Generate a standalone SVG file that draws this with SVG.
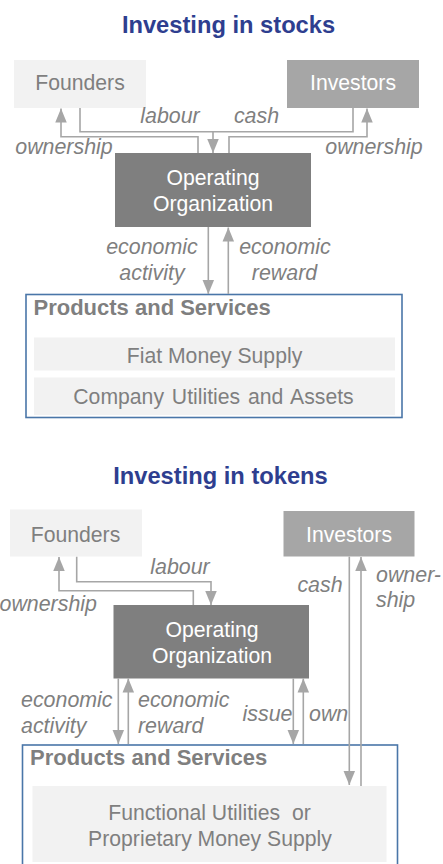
<svg xmlns="http://www.w3.org/2000/svg" width="443" height="864" viewBox="0 0 443 864">
<style>
.title{font-family:"Liberation Sans",Arial,sans-serif;font-weight:bold;font-size:23.7px;fill:#2e3e8f;text-anchor:middle}
.lt{fill:#f2f2f2}
.md{fill:#a6a6a6}
.dk{fill:#7f7f7f}
.t{font-family:"Liberation Sans",Arial,sans-serif;font-size:21.2px;fill:#7f7f7f;text-anchor:middle}
.pre{white-space:pre}
.w{fill:#ffffff}
.lbl{font-family:"Liberation Sans",Arial,sans-serif;font-size:21.4px;font-style:italic;fill:#7f7f7f}
.ps{font-family:"Liberation Sans",Arial,sans-serif;font-size:22px;font-weight:bold;fill:#7f7f7f}
.frame{fill:#ffffff;stroke:#4a76a8;stroke-width:1.6}
.c{fill:none;stroke:#a6a6a6;stroke-width:1.6}
.a{marker-end:url(#ah)}
</style>
<defs>
<marker id="ah" markerUnits="userSpaceOnUse" markerWidth="14" markerHeight="17" refX="17" refY="7" orient="auto" viewBox="0 0 17 14">
<path d="M0,0 L17,7 L0,14 z" fill="#a6a6a6"/>
</marker>
</defs>

<!-- Section 1 -->
<text class="title" x="228.5" y="33">Investing in stocks</text>

<g id="founders1">
<rect class="lt" x="14" y="60" width="132" height="48"/>
<text class="t" x="80" y="90">Founders</text>
</g>
<g id="investors1">
<rect class="md" x="287" y="60" width="132" height="48"/>
<text class="t w" x="353" y="90">Investors</text>
</g>
<g id="org1">
<rect class="dk" x="115" y="153" width="196" height="74"/>
<text class="t w" x="213" y="185">Operating</text>
<text class="t w" x="213" y="211">Organization</text>
</g>
<g id="products1">
<rect class="frame" x="26" y="294.5" width="376" height="123"/>
<text class="ps" x="33.5" y="315">Products and Services</text>
<rect class="lt" x="34" y="337.5" width="361" height="33"/>
<text class="t" x="214.5" y="362.5">Fiat Money Supply</text>
<rect class="lt" x="34" y="377.5" width="361" height="37.5"/>
<text class="t" x="213.5" y="404" word-spacing="2">Company Utilities and Assets</text>
</g>

<!-- Section 2 -->
<text class="title" x="220.5" y="483.5">Investing in tokens</text>

<g id="founders2">
<rect class="lt" x="10" y="509.5" width="132" height="47"/>
<text class="t" x="75.5" y="541.5">Founders</text>
</g>
<g id="investors2">
<rect class="md" x="283.5" y="511" width="131" height="45.5"/>
<text class="t w" x="349" y="541.5">Investors</text>
</g>
<g id="org2">
<rect class="dk" x="113.5" y="605" width="195.5" height="73.5"/>
<text class="t w" x="212" y="636.5">Operating</text>
<text class="t w" x="212" y="663">Organization</text>
</g>
<g id="products2">
<rect class="frame" x="22.5" y="745" width="375" height="130"/>
<text class="ps" x="30" y="765">Products and Services</text>
</g>

<g id="connectors">
<!-- section 1 -->
<polyline class="c" points="80,108 80,131.7 213,131.7"/>
<polyline class="c a" points="353,108 353,131.7 213,131.7 213,153"/>
<polyline class="c a" points="198,153 198,136.7 61,136.7 61,108.5"/>
<polyline class="c a" points="229,153 229,136.7 367,136.7 367,108.5"/>
<line class="c a" x1="208.3" y1="227" x2="208.3" y2="294"/>
<line class="c a" x1="228.3" y1="294" x2="228.3" y2="227.5"/>
<!-- section 2 -->
<polyline class="c a" points="76.7,556.7 76.7,581.7 211,581.7 211,605"/>
<polyline class="c a" points="193.3,605 193.3,590.7 59,590.7 59,557"/>
<line class="c a" x1="349.3" y1="556.7" x2="349.3" y2="785"/>
<line class="c a" x1="361" y1="786" x2="361" y2="557"/>
<line class="c a" x1="118.3" y1="678.5" x2="118.3" y2="744"/>
<line class="c a" x1="128.3" y1="744" x2="128.3" y2="678.5"/>
<line class="c a" x1="293.3" y1="678.5" x2="293.3" y2="744"/>
<line class="c a" x1="303.3" y1="744" x2="303.3" y2="678.5"/>
</g>

<g id="labels">
<text class="lbl" x="170" y="123" text-anchor="middle">labour</text>
<text class="lbl" x="256.5" y="123" text-anchor="middle">cash</text>
<text class="lbl" x="64" y="153.5" text-anchor="middle">ownership</text>
<text class="lbl" x="374" y="153.5" text-anchor="middle">ownership</text>
<text class="lbl" x="152" y="253.5" text-anchor="middle">economic</text>
<text class="lbl" x="152" y="279.5" text-anchor="middle">activity</text>
<text class="lbl" x="285" y="253.5" text-anchor="middle">economic</text>
<text class="lbl" x="284.5" y="279.5" text-anchor="middle">reward</text>

<text class="lbl" x="180" y="574" text-anchor="middle">labour</text>
<text class="lbl" x="97" y="610.5" text-anchor="end">ownership</text>
<text class="lbl" x="320" y="592" text-anchor="middle">cash</text>
<text class="lbl" x="376" y="582">owner-</text>
<text class="lbl" x="376" y="607">ship</text>
<text class="lbl" x="21" y="707">economic</text>
<text class="lbl" x="21" y="732.5">activity</text>
<text class="lbl" x="138" y="707">economic</text>
<text class="lbl" x="138" y="732.5">reward</text>
<text class="lbl" x="292.5" y="720.5" text-anchor="end">issue</text>
<text class="lbl" x="309" y="720.5">own</text>
</g>

<g id="functional">
<rect class="lt" x="32.5" y="786" width="354" height="76"/>
<text class="t pre" x="209.5" y="820">Functional Utilities  or</text>
<text class="t" x="210" y="846">Proprietary Money Supply</text>
</g>
</svg>
